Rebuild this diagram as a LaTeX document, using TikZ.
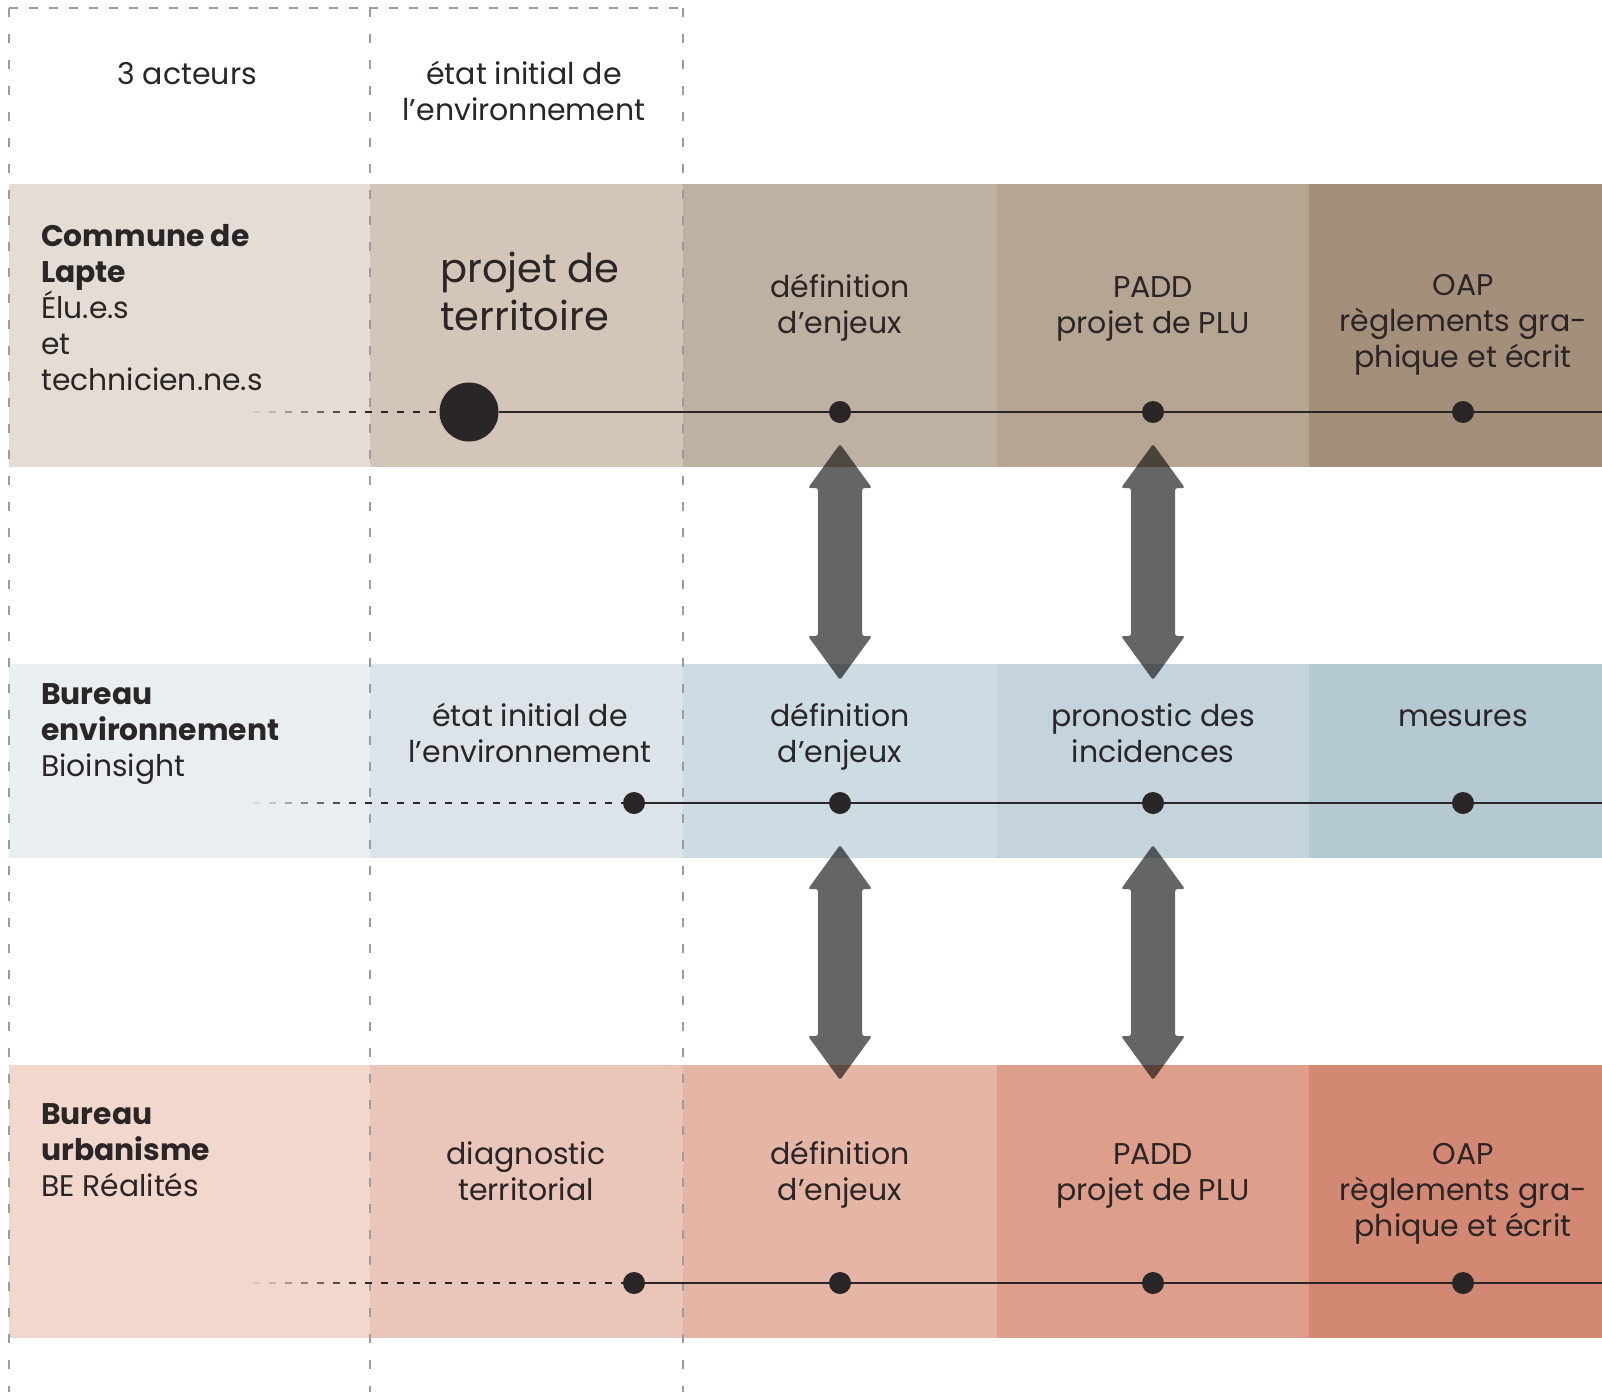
\documentclass[tikz,border=0pt]{standalone}
\usepackage{fontspec}
\setmainfont{Poppins}

% band colours: three actors x five phases
\definecolor{ink}{HTML}{2A2526}
\definecolor{grid}{HTML}{9C9C9C}
\definecolor{aA}{HTML}{E4DDD6}\definecolor{aB}{HTML}{D3C6B8}\definecolor{aC}{HTML}{BFB1A1}\definecolor{aD}{HTML}{B5A592}\definecolor{aE}{HTML}{A38F7A}
\definecolor{bA}{HTML}{E9EFF1}\definecolor{bB}{HTML}{DCE4EA}\definecolor{bC}{HTML}{CDDCE2}\definecolor{bD}{HTML}{C4D3DC}\definecolor{bE}{HTML}{B4C9D2}
\definecolor{cA}{HTML}{F2D7CC}\definecolor{cB}{HTML}{EAC5B9}\definecolor{cC}{HTML}{E5B6A5}\definecolor{cD}{HTML}{DD9F8B}\definecolor{cE}{HTML}{D38873}

% double-headed block arrow: centre x, top tip y, bottom tip y
\newcommand{\twoway}[3]{%
  \fill[arrowfill] (#1,#2) -- ({#1+32},{#2+44}) -- ({#1+22},{#2+44})
    -- ({#1+22},{#3-44}) -- ({#1+32},{#3-44}) -- (#1,#3)
    -- ({#1-32},{#3-44}) -- ({#1-22},{#3-44}) -- ({#1-22},{#2+44})
    -- ({#1-32},{#2+44}) -- cycle;}

% fading dashed lead-in from a start coordinate to a dot
\newcommand{\leadin}[2]{%
  \foreach \o [count=\k from 0] in {0.1,0.22,0.36,0.5,0.64,0.78,0.9}
    \draw[lead, draw opacity=\o] ([xshift=16*\k pt]#1) -- ([xshift=16*\k pt+16pt]#1);
  \draw[lead] ([xshift=112pt]#1) -- (#2);}

\begin{document}
\begin{tikzpicture}[x=1pt, y=-1pt,
  % multi-line nodes are placed at the baseline of their last line
  txt/.style={font=\fontsize{30}{36}\selectfont, text=ink, align=center, anchor=base, inner sep=0pt},
  lbl/.style={font=\fontsize{29.8}{35.8}\selectfont, text=ink, align=left, anchor=base west, inner sep=0pt},
  big/.style={font=\fontsize{40}{48}\selectfont, text=ink, align=left, anchor=base west, inner sep=0pt},
  dot/.style={circle, fill=ink, inner sep=0pt, minimum size=22pt},
  bigdot/.style={circle, fill=ink, inner sep=0pt, minimum size=59pt},
  tl/.style={draw=ink, line width=1.4pt},
  lead/.style={draw=ink, line width=1.6pt, dash pattern=on 7pt off 9pt},
  gridv/.style={draw=grid, line width=1.2pt, dash pattern=on 9pt off 17pt},
  gridh/.style={draw=grid, line width=1.2pt, dash pattern=on 9pt off 11pt},
  arrowfill/.style={fill=black!97, fill opacity=0.62, rounded corners=2.5pt}]

\useasboundingbox (0,0) rectangle (1602,1392);
\fill[white] (0,0) rectangle (1602,1392);

% ---- bands ----
\foreach \r/\ya/\yb in {a/184/467, b/664/858, c/1065/1338}{
  \fill[\r A] (9,\ya) rectangle (370,\yb);
  \fill[\r B] (370,\ya) rectangle (683,\yb);
  \fill[\r C] (683,\ya) rectangle (997,\yb);
  \fill[\r D] (997,\ya) rectangle (1309,\yb);
  \fill[\r E] (1309,\ya) rectangle (1602,\yb);
}

% ---- dashed grid of the two first columns ----
\draw[gridh] (9,8) -- (683,8);
\foreach \x in {9,370,683} \draw[gridv] (\x,8) -- (\x,1392);

% ---- headers ----
\node[txt] (h0) at (187,84.5) {3 acteurs};
\node[txt] (h1) at (524,120.5) {état initial de\\l’environnement};

% ---- row 1: Commune de Lapte ----
\node[lbl] (l1) at (41,390) {{\bfseries Commune de}\\{\bfseries Lapte}\\Élu.e.s\\et\\technicien.ne.s};
\node[big] (p1) at (440,330) {projet de\\territoire};
\node[txt] (t12) at (840,333) {définition\\d’enjeux};
\node[txt] (t13) at (1153,333) {PADD\\projet de PLU};
\node[txt] (t14) at (1463,367.5) {OAP\\règlements gra-\\phique et écrit};

\node[bigdot] (d11) at (469,412) {};
\node[dot] (d12) at (840,412) {};
\node[dot] (d13) at (1153,412) {};
\node[dot] (d14) at (1463,412) {};
\coordinate (s1) at (253,412);
\coordinate (e1) at (1602,412);
\leadin{s1}{d11}
\draw[tl] (d11) -- (e1);

% ---- row 2: Bureau environnement ----
\node[lbl] (l2) at (41,776) {{\bfseries Bureau}\\{\bfseries environnement}\\Bioinsight};
\node[txt] (t21) at (530,762) {état initial de\\l’environnement};
\node[txt] (t22) at (840,762) {définition\\d’enjeux};
\node[txt] (t23) at (1153,762) {pronostic des\\incidences};
\node[txt] (t24) at (1463,726) {mesures};

\node[dot] (d21) at (634,803) {};
\node[dot] (d22) at (840,803) {};
\node[dot] (d23) at (1153,803) {};
\node[dot] (d24) at (1463,803) {};
\coordinate (s2) at (253,803);
\coordinate (e2) at (1602,803);
\leadin{s2}{d21}
\draw[tl] (d21) -- (e2);

% ---- row 3: Bureau urbanisme ----
\node[lbl] (l3) at (41,1196) {{\bfseries Bureau}\\{\bfseries urbanisme}\\BE Réalités};
\node[txt] (t31) at (526,1200) {diagnostic\\territorial};
\node[txt] (t32) at (840,1200) {définition\\d’enjeux};
\node[txt] (t33) at (1153,1200) {PADD\\projet de PLU};
\node[txt] (t34) at (1463,1236) {OAP\\règlements gra-\\phique et écrit};

\node[dot] (d31) at (634,1283) {};
\node[dot] (d32) at (840,1283) {};
\node[dot] (d33) at (1153,1283) {};
\node[dot] (d34) at (1463,1283) {};
\coordinate (s3) at (253,1283);
\coordinate (e3) at (1602,1283);
\leadin{s3}{d31}
\draw[tl] (d31) -- (e3);

% ---- exchanges between actors ----
\twoway{840}{444}{680}
\twoway{1153}{444}{680}
\twoway{840}{845}{1080}
\twoway{1153}{845}{1080}

\end{tikzpicture}
\end{document}
